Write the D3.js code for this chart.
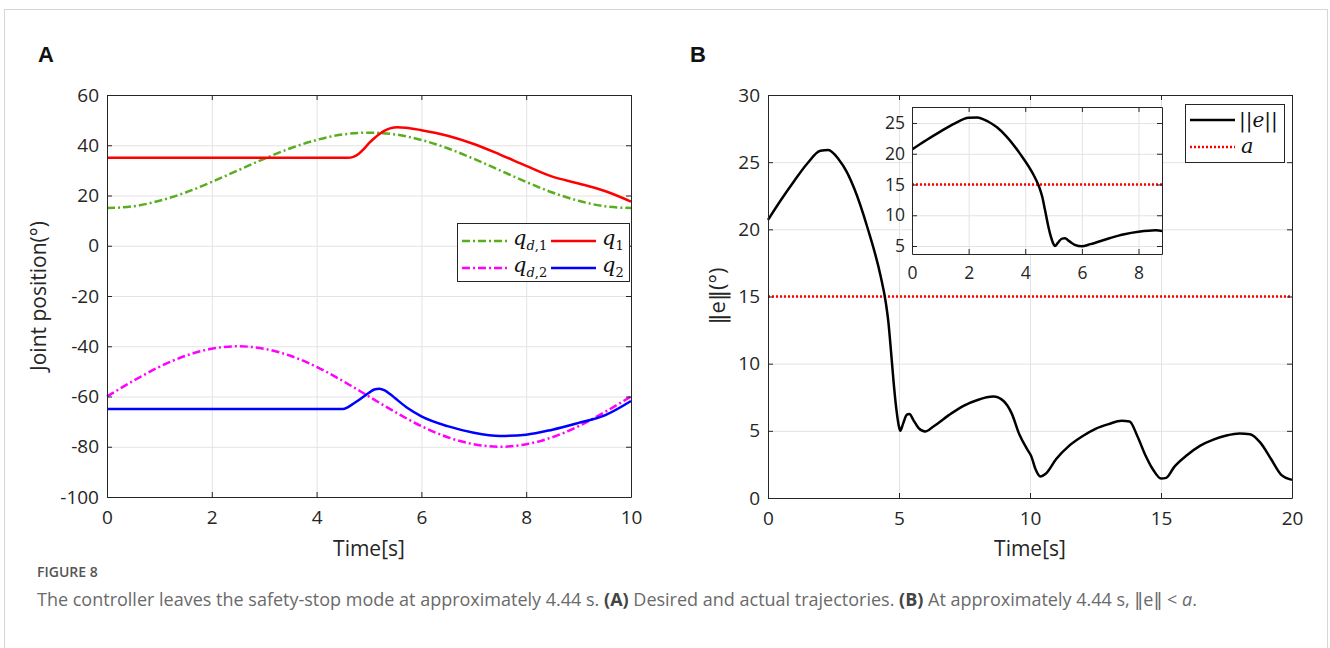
<!doctype html>
<html lang="en">
<head>
<meta charset="utf-8">
<title>Figure 8</title>
<script src="https://d3js.org/d3.v7.min.js"></script>
<style>
  body { margin: 0; background: #fff; }
  svg text { font-family: "Open Sans", "DejaVu Sans", sans-serif; }
</style>
</head>
<body>
<div id="fig"></div>
<script>
// ---- panel A data (time in s, angles in deg) ----
var tDes = [0, 0.5, 1, 1.5, 2, 2.5, 3, 3.5, 4, 4.5, 5, 5.5, 6, 6.5, 7, 7.5, 8, 8.5, 9, 9.5, 10];
var qd1 = [15, 15.7, 17.9, 21.2, 25.4, 30, 34.6, 38.8, 42.1, 44.3, 45, 44.3, 42.1, 38.8, 34.6, 30, 25.4, 21.2, 17.9, 15.7, 15];
var qd2 = [-60, -53.8, -48.2, -43.8, -41, -40, -41, -43.8, -48.2, -53.8, -60, -66.2, -71.8, -76.2, -79, -80, -79, -76.2, -71.8, -66.2, -60];

var tQ1 = [0, 4.5, 4.6, 4.7, 4.8, 4.9, 5.0, 5.1, 5.2, 5.3, 5.4, 5.55, 5.7, 6, 6.5, 7, 7.5, 8, 8.5, 9, 9.5, 10];
var q1 = [35, 35, 35, 35.4, 36.5, 38.5, 40.8, 42.8, 44.5, 45.8, 46.7, 47.2, 47, 46, 43.8, 40.5, 36.3, 31.8, 27.5, 24.8, 21.8, 17.6];

var tQ2 = [0, 4.5, 4.6, 4.7, 4.8, 4.9, 5.0, 5.1, 5.2, 5.3, 5.4, 5.5, 5.75, 6, 6.5, 7, 7.5, 8, 8.5, 9, 9.5, 10];
var q2 = [-65, -65, -64.2, -62.9, -61.5, -60, -58.5, -57.2, -56.9, -57.6, -59, -60.7, -64.8, -67.9, -71.8, -74.4, -75.7, -75.2, -73.2, -70.5, -67.5, -61.8];

// ---- panel B data ----
var tErr = [0, 0.5, 1, 1.5, 2, 2.3, 2.7, 3, 3.3, 3.8, 4.3, 4.5, 4.6, 4.7, 4.8, 4.9, 5.0, 5.05, 5.15, 5.3, 5.4, 5.55, 5.75, 6,
            6.3, 7, 7.5, 8, 8.6, 9, 9.3, 9.6, 9.9, 10.05, 10.2, 10.4, 10.6, 11, 11.5, 12, 12.5, 13, 13.5, 13.8,
            14.1, 14.4, 14.7, 15, 15.2, 15.5, 16, 16.5, 17, 17.5, 18, 18.4, 18.8, 19.2, 19.6, 20];
var err = [20.7, 22.2, 23.6, 24.9, 25.85, 25.9, 25.2, 24.3, 23.0, 20.1, 16.5, 14.5, 13, 10.8, 8.5, 6.6, 5.3, 5.0, 5.5, 6.2, 6.25, 5.8, 5.2, 4.95,
           5.3, 6.3, 6.9, 7.3, 7.55, 7.2, 6.3, 4.7, 3.6, 3.1, 2.2, 1.6, 1.8, 2.9, 3.9, 4.6, 5.15, 5.5, 5.75, 5.7,
           4.6, 3.2, 2.1, 1.45, 1.5, 2.3, 3.2, 3.9, 4.35, 4.65, 4.8, 4.75, 4.1, 2.9, 1.7, 1.35];
var aLevel = 15;

var ticksAx = [0, 2, 4, 6, 8, 10];
var ticksAy = [-100, -80, -60, -40, -20, 0, 20, 40, 60];
var ticksBx = [0, 5, 10, 15, 20];
var ticksBy = [0, 5, 10, 15, 20, 25, 30];
var ticksIx = [0, 2, 4, 6, 8];
var ticksIy = [5, 10, 15, 20, 25];

var W = 1330, H = 648;
var svg = d3.select("#fig").append("svg").attr("width", W).attr("height", H);

svg.append("rect").attr("x", 4.5).attr("y", 9.5).attr("width", 1323).attr("height", 700)
  .attr("fill", "none").attr("stroke", "#d6d6d6");

var axisCol = "#262626", gridCol = "#e3e3e3";
var plain = function(d) { return String(d); };   // hyphen minus like the original

function grid(g, x, y, xt, yt) {
  var y0 = y.range()[0], y1 = y.range()[1], x0 = x.range()[0], x1 = x.range()[1];
  g.append("g").attr("transform", "translate(0," + y0 + ")")
    .call(d3.axisBottom(x).tickValues(xt).tickSize(-(y0 - y1)).tickFormat(""))
    .call(function(s) { s.select(".domain").remove(); s.selectAll("line").attr("stroke", gridCol); });
  g.append("g").attr("transform", "translate(" + x0 + ",0)")
    .call(d3.axisLeft(y).tickValues(yt).tickSize(-(x1 - x0)).tickFormat(""))
    .call(function(s) { s.select(".domain").remove(); s.selectAll("line").attr("stroke", gridCol); });
}

function box(g, x, y, xt, yt, fs, padX, padY) {
  var y0 = y.range()[0], y1 = y.range()[1], x0 = x.range()[0], x1 = x.range()[1];
  var tk = 5;
  var style = function(s) {
    s.select(".domain").attr("stroke", axisCol);
    s.selectAll("line").attr("stroke", axisCol);
    s.selectAll("text").attr("fill", "#262626").style("font-size", fs + "px");
  };
  g.append("g").attr("transform", "translate(0," + y0 + ")")
    .call(d3.axisBottom(x).tickValues(xt).tickSize(-tk).tickSizeOuter(0).tickPadding(padX).tickFormat(plain)).call(style);
  g.append("g").attr("transform", "translate(0," + y1 + ")")
    .call(d3.axisTop(x).tickValues(xt).tickSize(-tk).tickSizeOuter(0).tickFormat("")).call(style);
  g.append("g").attr("transform", "translate(" + x0 + ",0)")
    .call(d3.axisLeft(y).tickValues(yt).tickSize(-tk).tickSizeOuter(0).tickPadding(padY).tickFormat(plain)).call(style);
  g.append("g").attr("transform", "translate(" + x1 + ",0)")
    .call(d3.axisRight(y).tickValues(yt).tickSize(-tk).tickSizeOuter(0).tickFormat("")).call(style);
}

function pts(t, v) { return t.map(function(d, i) { return [d, v[i]]; }); }

// ================= Panel A =================
var xA = d3.scaleLinear().domain([0, 10]).range([107, 631]);
var yA = d3.scaleLinear().domain([-100, 60]).range([497, 95]);
var gA = svg.append("g");
grid(gA, xA, yA, ticksAx, ticksAy);

var lineA = d3.line().x(function(d) { return xA(d[0]); }).y(function(d) { return yA(d[1]); }).curve(d3.curveMonotoneX);
gA.append("path").datum(pts(tDes, qd1)).attr("d", lineA).attr("fill", "none")
  .attr("stroke", "#5aae1e").attr("stroke-width", 2.5).attr("stroke-dasharray", "8,3,2,3");
gA.append("path").datum(pts(tDes, qd2)).attr("d", lineA).attr("fill", "none")
  .attr("stroke", "#ff00ff").attr("stroke-width", 2.5).attr("stroke-dasharray", "8,3,2,3");
gA.append("path").datum(pts(tQ1, q1)).attr("d", lineA).attr("fill", "none")
  .attr("stroke", "#ff0000").attr("stroke-width", 2.5);
gA.append("path").datum(pts(tQ2, q2)).attr("d", lineA).attr("fill", "none")
  .attr("stroke", "#0000ff").attr("stroke-width", 2.5);

box(gA, xA, yA, ticksAx, ticksAy, 19, 14, 8);

// legend A
var lgA = gA.append("g");
lgA.append("rect").attr("x", 457.5).attr("y", 223.5).attr("width", 172).attr("height", 58)
  .attr("fill", "#fff").attr("stroke", axisCol);
var legA = [
  {c: "#5aae1e", d: "8,3,2,3", x: 462, y: 241, sub: "d,1"},
  {c: "#ff0000", d: null, x: 551, y: 241, sub: "1"},
  {c: "#ff00ff", d: "8,3,2,3", x: 462, y: 268, sub: "d,2"},
  {c: "#0000ff", d: null, x: 551, y: 268, sub: "2"}
];
legA.forEach(function(e) {
  lgA.append("line").attr("x1", e.x).attr("x2", e.x + 45).attr("y1", e.y).attr("y2", e.y)
    .attr("stroke", e.c).attr("stroke-width", 2.5).attr("stroke-dasharray", e.d);
  var t = lgA.append("text").attr("x", e.x + 51).attr("y", e.y + 4)
    .style("font-family", "'DejaVu Serif', 'Liberation Serif', serif").style("font-size", "21px").attr("fill", "#111");
  t.append("tspan").style("font-style", "italic").text("q");
  var s = t.append("tspan").attr("dy", 5).style("font-size", "13px");
  if (e.sub.length > 1) {
    s.append("tspan").style("font-style", "italic").text("d");
    s.append("tspan").text("," + e.sub.slice(2));
  } else {
    s.text(e.sub);
  }
});

svg.append("text").attr("x", 369).attr("y", 556).attr("text-anchor", "middle")
  .style("font-size", "21px").attr("fill", "#262626").text("Time[s]");
svg.append("text").attr("transform", "translate(46,296) rotate(-90)").attr("text-anchor", "middle")
  .style("font-size", "21px").attr("fill", "#262626").text("Joint position(°)");
svg.append("text").attr("x", 38).attr("y", 62)
  .style("font-family", "'Liberation Sans', Arial, sans-serif").style("font-weight", "bold")
  .style("font-size", "22px").attr("fill", "#111").text("A");

// ================= Panel B =================
var xB = d3.scaleLinear().domain([0, 20]).range([768, 1292]);
var yB = d3.scaleLinear().domain([0, 30]).range([498, 95]);
var gB = svg.append("g");
grid(gB, xB, yB, ticksBx, ticksBy);
var lineB = d3.line().x(function(d) { return xB(d[0]); }).y(function(d) { return yB(d[1]); }).curve(d3.curveMonotoneX);
gB.append("line").attr("x1", xB(0)).attr("x2", xB(20)).attr("y1", yB(aLevel)).attr("y2", yB(aLevel))
  .attr("stroke", "#ff0000").attr("stroke-width", 2.5).attr("stroke-dasharray", "2,2");
gB.append("path").datum(pts(tErr, err)).attr("d", lineB).attr("fill", "none")
  .attr("stroke", "#000").attr("stroke-width", 2.5);
box(gB, xB, yB, ticksBx, ticksBy, 19, 14, 8);

// inset
var xI = d3.scaleLinear().domain([0, 8.83]).range([912, 1162]);
var yI = d3.scaleLinear().domain([3.7, 27.6]).range([254, 107]);
var gI = svg.append("g");
gI.append("rect").attr("x", 912).attr("y", 107).attr("width", 250).attr("height", 147).attr("fill", "#fff");
grid(gI, xI, yI, ticksIx, ticksIy);
svg.append("clipPath").attr("id", "clipI").append("rect").attr("x", 912).attr("y", 107).attr("width", 250).attr("height", 147);
var lineI = d3.line().x(function(d) { return xI(d[0]); }).y(function(d) { return yI(d[1]); }).curve(d3.curveMonotoneX);
var gIc = gI.append("g").attr("clip-path", "url(#clipI)");
gIc.append("line").attr("x1", xI(0)).attr("x2", xI(8.83)).attr("y1", yI(aLevel)).attr("y2", yI(aLevel))
  .attr("stroke", "#ff0000").attr("stroke-width", 2.5).attr("stroke-dasharray", "2,2");
gIc.append("path").datum(pts(tErr, err)).attr("d", lineI).attr("fill", "none")
  .attr("stroke", "#000").attr("stroke-width", 2.5);
box(gI, xI, yI, ticksIx, ticksIy, 17.5, 13, 7);

// legend B
var lgB = gB.append("g");
lgB.append("rect").attr("x", 1185.5).attr("y", 104.5).attr("width", 99).attr("height", 58)
  .attr("fill", "#fff").attr("stroke", axisCol);
lgB.append("line").attr("x1", 1190).attr("x2", 1235).attr("y1", 120).attr("y2", 120)
  .attr("stroke", "#000").attr("stroke-width", 2.5);
lgB.append("line").attr("x1", 1190).attr("x2", 1235).attr("y1", 147).attr("y2", 147)
  .attr("stroke", "#ff0000").attr("stroke-width", 2.5).attr("stroke-dasharray", "2,2");
var tb = lgB.append("text").attr("x", 1239).attr("y", 127)
  .style("font-family", "'DejaVu Serif', 'Liberation Serif', serif").style("font-size", "20px").attr("fill", "#111");
tb.append("tspan").text("||");
tb.append("tspan").style("font-style", "italic").text("e");
tb.append("tspan").text("||");
lgB.append("text").attr("x", 1241).attr("y", 153)
  .style("font-family", "'DejaVu Serif', 'Liberation Serif', serif").style("font-size", "21px")
  .style("font-style", "italic").attr("fill", "#111").text("a");

svg.append("text").attr("x", 1030).attr("y", 556).attr("text-anchor", "middle")
  .style("font-size", "21px").attr("fill", "#262626").text("Time[s]");
svg.append("text").attr("transform", "translate(725,296) rotate(-90)").attr("text-anchor", "middle")
  .style("font-size", "22px").attr("fill", "#262626").text("\u2016e\u2016(°)");
svg.append("text").attr("x", 690).attr("y", 62)
  .style("font-family", "'Liberation Sans', Arial, sans-serif").style("font-weight", "bold")
  .style("font-size", "22px").attr("fill", "#111").text("B");

// ================= caption =================
svg.append("text").attr("x", 37).attr("y", 577).style("font-size", "14px").style("font-weight", 600)
  .attr("fill", "#555").text("FIGURE 8");
var cap = svg.append("text").attr("x", 37).attr("y", 606).style("font-size", "18px").attr("fill", "#6a6a6a");
cap.append("tspan").text("The controller leaves the safety-stop mode at approximately 4.44 s. ");
cap.append("tspan").style("font-weight", "bold").attr("fill", "#444").text("(A)");
cap.append("tspan").text(" Desired and actual trajectories. ");
cap.append("tspan").style("font-weight", "bold").attr("fill", "#444").text("(B)");
cap.append("tspan").text(" At approximately 4.44 s, \u2016e\u2016 < ");
cap.append("tspan").style("font-style", "italic").text("a");
cap.append("tspan").text(".");
</script>
</body>
</html>
